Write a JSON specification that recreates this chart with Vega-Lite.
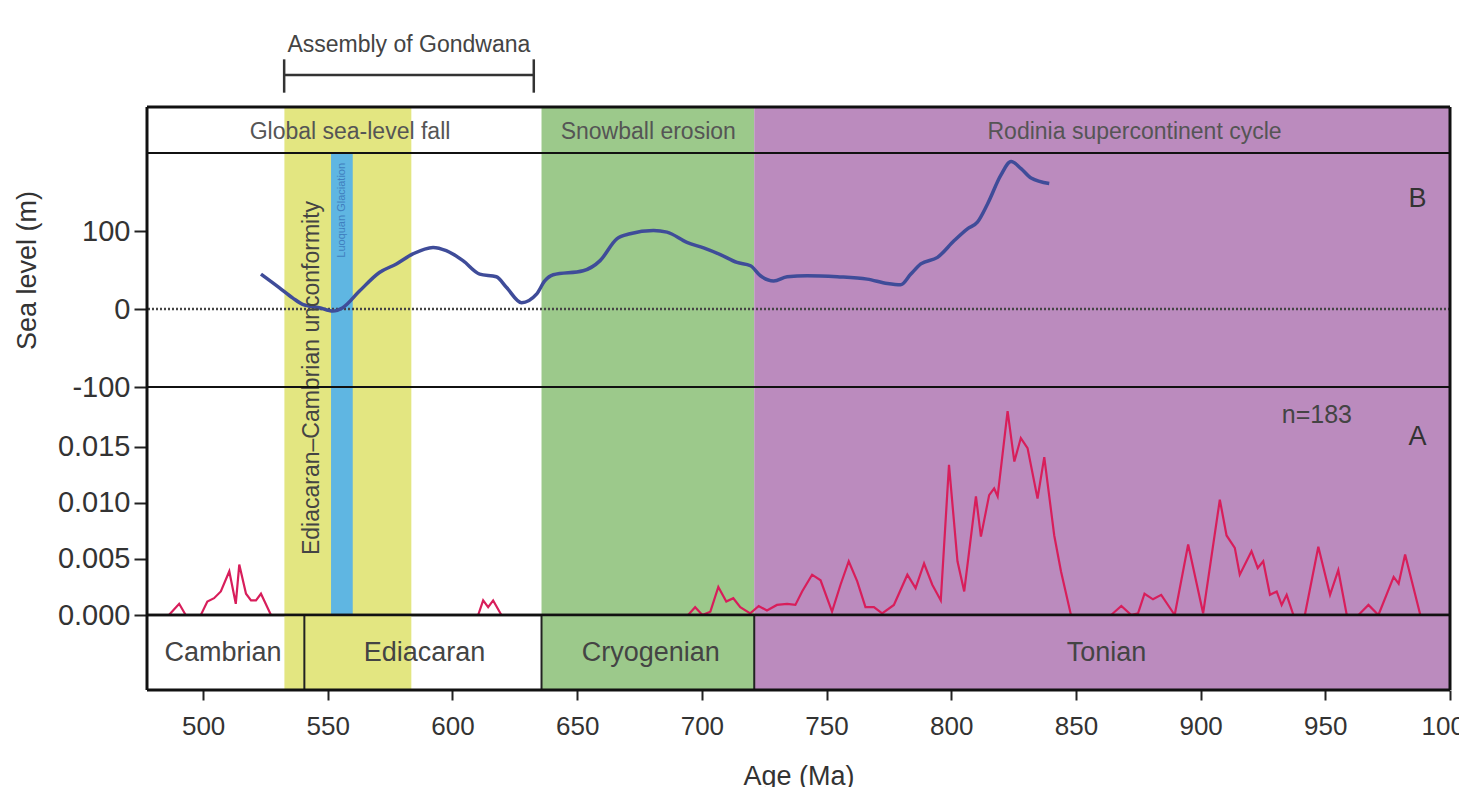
{
  "$schema": "https://vega.github.io/schema/vega-lite/v6.json",
  "background": "white",
  "padding": {"left": 13, "top": 30, "right": 0, "bottom": 0},
  "spacing": 0,
  "bounds": "flush",
  "config": {
    "font": "Liberation Sans",
    "view": {"stroke": null},
    "axis": {"domain": false, "grid": false, "tickColor": "#222", "tickWidth": 2, "labelFont": "Liberation Sans", "labelFontSize": 26, "labelColor": "#333", "titleFont": "Liberation Sans", "titleFontSize": 27, "titleFontWeight": "normal", "titleColor": "#333"},
    "text": {"font": "Liberation Sans"}
  },
  "datasets": {
    "one": [{"frame": "plot"}],
    "bands": [
      {"event": "Ediacaran–Cambrian unconformity", "start": 532.6, "end": 583.5},
      {"event": "Luoquan Glaciation", "start": 551.3, "end": 560},
      {"event": "Snowball erosion", "start": 635.7, "end": 721},
      {"event": "Rodinia supercontinent cycle", "start": 721, "end": 1000}
    ],
    "sea": [
      {"age": 523.2, "sea": 44.8}, {"age": 530.5, "sea": 27.5}, {"age": 536, "sea": 14}, {"age": 539.9, "sea": 6},
      {"age": 546.6, "sea": 1.7}, {"age": 552, "sea": -2.6}, {"age": 556, "sea": 1.7}, {"age": 562.7, "sea": 23},
      {"age": 570.7, "sea": 46.8}, {"age": 577.5, "sea": 57.7}, {"age": 584.1, "sea": 70.6}, {"age": 592.2, "sea": 79},
      {"age": 597.5, "sea": 74.8}, {"age": 604.2, "sea": 62}, {"age": 610.9, "sea": 44.8}, {"age": 617.6, "sea": 41.3},
      {"age": 621.7, "sea": 27.5}, {"age": 627.7, "sea": 8.1}, {"age": 633.7, "sea": 19}, {"age": 637, "sea": 36},
      {"age": 640.4, "sea": 43.9}, {"age": 652.4, "sea": 49}, {"age": 659.2, "sea": 62}, {"age": 665.9, "sea": 90},
      {"age": 671.2, "sea": 96.4}, {"age": 680.6, "sea": 100.6}, {"age": 686, "sea": 98.5}, {"age": 694, "sea": 85.5},
      {"age": 700.7, "sea": 78.3}, {"age": 707.4, "sea": 69.7}, {"age": 714.1, "sea": 59.7}, {"age": 719.5, "sea": 55.5},
      {"age": 723.5, "sea": 42.6}, {"age": 728.8, "sea": 36}, {"age": 734.2, "sea": 41.3}, {"age": 742.2, "sea": 42.6},
      {"age": 754.3, "sea": 41.3}, {"age": 766.3, "sea": 38.3}, {"age": 774.4, "sea": 32.6}, {"age": 779.7, "sea": 31},
      {"age": 783.8, "sea": 44.8}, {"age": 787.8, "sea": 57.7}, {"age": 794.5, "sea": 66.2}, {"age": 801.2, "sea": 87.7},
      {"age": 806.5, "sea": 102.8}, {"age": 810.5, "sea": 111.4}, {"age": 814.6, "sea": 135}, {"age": 819.9, "sea": 171.6},
      {"age": 824, "sea": 189}, {"age": 828, "sea": 180}, {"age": 832, "sea": 168}, {"age": 839.3, "sea": 161}
    ],
    "density": [
      {"age": 486.3, "d": 0}, {"age": 490.4, "d": 0.001}, {"age": 493, "d": 0}, {"age": 499.1, "d": 0},
      {"age": 501.7, "d": 0.0012}, {"age": 504.4, "d": 0.0015}, {"age": 507.1, "d": 0.0021}, {"age": 510.5, "d": 0.0039},
      {"age": 513.1, "d": 0.001}, {"age": 514.5, "d": 0.0045}, {"age": 517.2, "d": 0.0019}, {"age": 519.2, "d": 0.0013},
      {"age": 521.2, "d": 0.0013}, {"age": 523.2, "d": 0.0019}, {"age": 527.2, "d": 0},
      {"age": 610.3, "d": 0}, {"age": 612.3, "d": 0.0013}, {"age": 614.3, "d": 0.0007}, {"age": 616.3, "d": 0.0013}, {"age": 619.6, "d": 0},
      {"age": 694.5, "d": 0}, {"age": 697.3, "d": 0.0007}, {"age": 700.2, "d": 0}, {"age": 703.4, "d": 0.0003},
      {"age": 706.6, "d": 0.0025}, {"age": 709.8, "d": 0.0012}, {"age": 712.6, "d": 0.0015}, {"age": 715.4, "d": 0.0007},
      {"age": 719.4, "d": 0.00015}, {"age": 722.8, "d": 0.0008}, {"age": 726.1, "d": 0.0004}, {"age": 730.1, "d": 0.0009},
      {"age": 734.2, "d": 0.001}, {"age": 737.5, "d": 0.0009}, {"age": 740.2, "d": 0.0021}, {"age": 744.2, "d": 0.0036},
      {"age": 747.6, "d": 0.0031}, {"age": 752.2, "d": 0.0003}, {"age": 755.6, "d": 0.0027}, {"age": 758.9, "d": 0.0048},
      {"age": 762.3, "d": 0.003}, {"age": 765.6, "d": 0.0007}, {"age": 769, "d": 0.0007}, {"age": 772.3, "d": 0.00015},
      {"age": 777, "d": 0.0009}, {"age": 782.4, "d": 0.0036}, {"age": 785.7, "d": 0.0024}, {"age": 789.1, "d": 0.0046},
      {"age": 792.4, "d": 0.0027}, {"age": 795.8, "d": 0.0013}, {"age": 799.1, "d": 0.0134}, {"age": 802.5, "d": 0.0048},
      {"age": 805.2, "d": 0.0021}, {"age": 809.9, "d": 0.0106}, {"age": 811.9, "d": 0.007}, {"age": 815.2, "d": 0.0107},
      {"age": 817.2, "d": 0.0113}, {"age": 818.6, "d": 0.0106}, {"age": 822.6, "d": 0.0182}, {"age": 825.3, "d": 0.0137},
      {"age": 827.9, "d": 0.0158}, {"age": 830.6, "d": 0.0149}, {"age": 834.6, "d": 0.0104}, {"age": 837.3, "d": 0.0141},
      {"age": 841.3, "d": 0.0071}, {"age": 844, "d": 0.0039}, {"age": 848, "d": 0},
      {"age": 864.1, "d": 0}, {"age": 868.2, "d": 0.0008}, {"age": 872.2, "d": 0}, {"age": 874.9, "d": 0.00015},
      {"age": 877.5, "d": 0.0019}, {"age": 880.9, "d": 0.0014}, {"age": 884.2, "d": 0.0018}, {"age": 889.6, "d": 0},
      {"age": 895, "d": 0.0063}, {"age": 901, "d": 0.00015}, {"age": 907.7, "d": 0.0103}, {"age": 910.4, "d": 0.0071},
      {"age": 913.7, "d": 0.006}, {"age": 915.7, "d": 0.0036}, {"age": 920.4, "d": 0.0057}, {"age": 922.9, "d": 0.0042},
      {"age": 925.1, "d": 0.0048}, {"age": 927.8, "d": 0.0018}, {"age": 930.5, "d": 0.0021}, {"age": 932.5, "d": 0.0009},
      {"age": 934.5, "d": 0.0018}, {"age": 937.2, "d": 0}, {"age": 941.8, "d": 0}, {"age": 947.2, "d": 0.0061},
      {"age": 951.9, "d": 0.0018}, {"age": 955.2, "d": 0.004}, {"age": 958.6, "d": 0}, {"age": 963.3, "d": 0},
      {"age": 967.3, "d": 0.0009}, {"age": 971.3, "d": 0}, {"age": 977.4, "d": 0.0034}, {"age": 979.4, "d": 0.0028},
      {"age": 982, "d": 0.0054}, {"age": 988.1, "d": 0}
    ],
    "periods": [
      {"period": "Cambrian", "start": 477.5, "end": 540.6, "mid": 508},
      {"period": "Ediacaran", "start": 540.6, "end": 635.7, "mid": 588.8},
      {"period": "Cryogenian", "start": 635.7, "end": 721, "mid": 679.5},
      {"period": "Tonian", "start": 721, "end": 1000, "mid": 862.3}
    ]
  },
  "vconcat": [
    {
      "width": 1303, "height": 77,
      "data": {"values": [{"event": "Assembly of Gondwana", "start": 532.5, "end": 632.6, "mid": 582.5}]},
      "layer": [
        {"mark": {"type": "rule", "color": "#333", "strokeWidth": 2.5},
         "encoding": {"x": {"field": "start", "type": "quantitative", "scale": {"domain": [477.5, 1000], "nice": false, "zero": false}, "axis": null}, "x2": {"field": "end"},
                      "y": {"datum": 0.4156, "type": "quantitative", "scale": {"domain": [0, 1], "nice": false}, "axis": null}}},
        {"mark": {"type": "rule", "color": "#333", "strokeWidth": 2.5},
         "encoding": {"x": {"field": "start", "type": "quantitative"}, "y": {"datum": 0.186, "type": "quantitative"}, "y2": {"datum": 0.619}}},
        {"mark": {"type": "rule", "color": "#333", "strokeWidth": 2.5},
         "encoding": {"x": {"field": "end", "type": "quantitative"}, "y": {"datum": 0.186, "type": "quantitative"}, "y2": {"datum": 0.619}}},
        {"mark": {"type": "text", "fontSize": 23, "color": "#444", "align": "center", "baseline": "middle"},
         "encoding": {"x": {"field": "mid", "type": "quantitative"}, "y": {"datum": 0.805, "type": "quantitative"}, "text": {"field": "event"}}}
      ]
    },
    {
      "width": 1303, "height": 46,
      "layer": [
        {"data": {"name": "bands"}, "transform": [{"filter": "datum.event !== 'Luoquan Glaciation'"}],
         "mark": {"type": "rect"},
         "encoding": {"x": {"field": "start", "type": "quantitative", "scale": {"domain": [477.5, 1000], "nice": false, "zero": false}, "axis": null}, "x2": {"field": "end"},
                      "color": {"field": "event", "type": "nominal", "legend": null, "scale": {"domain": ["Ediacaran–Cambrian unconformity", "Luoquan Glaciation", "Snowball erosion", "Rodinia supercontinent cycle"], "range": ["#e3e681", "#5fb6e2", "#9cc98b", "#bb8bbe"]}}}},
        {"data": {"values": [{"label": "Global sea-level fall", "mid": 558.9}, {"label": "Snowball erosion", "mid": 678.5}, {"label": "Rodinia supercontinent cycle", "mid": 873.5}]},
         "mark": {"type": "text", "fontSize": 23, "color": "#555", "align": "center", "baseline": "middle"},
         "encoding": {"x": {"field": "mid", "type": "quantitative"}, "y": {"datum": 0.45, "type": "quantitative", "scale": {"domain": [0, 1], "nice": false}, "axis": null}, "text": {"field": "label"}}},
        {"data": {"name": "one"}, "mark": {"type": "rule", "color": "#111", "strokeWidth": 3}, "encoding": {"y": {"datum": 1, "type": "quantitative"}}},
        {"data": {"name": "one"}, "mark": {"type": "rule", "color": "#111", "strokeWidth": 2}, "encoding": {"y": {"datum": 0, "type": "quantitative"}}},
        {"data": {"name": "one"}, "mark": {"type": "rule", "color": "#111", "strokeWidth": 3}, "encoding": {"x": {"datum": 477.5, "type": "quantitative"}}},
        {"data": {"name": "one"}, "mark": {"type": "rule", "color": "#111", "strokeWidth": 3}, "encoding": {"x": {"datum": 1000, "type": "quantitative"}}}
      ]
    },
    {
      "width": 1303, "height": 234,
      "layer": [
        {"data": {"name": "bands"},
         "mark": {"type": "rect"},
         "encoding": {"x": {"field": "start", "type": "quantitative", "scale": {"domain": [477.5, 1000], "nice": false, "zero": false}, "axis": null}, "x2": {"field": "end"},
                      "color": {"field": "event", "type": "nominal", "legend": null, "scale": {"domain": ["Ediacaran–Cambrian unconformity", "Luoquan Glaciation", "Snowball erosion", "Rodinia supercontinent cycle"], "range": ["#e3e681", "#5fb6e2", "#9cc98b", "#bb8bbe"]}}}},
        {"data": {"values": [{"label": "Luoquan Glaciation", "age": 555.7, "sea": 126.5}]},
         "mark": {"type": "text", "fontSize": 11, "angle": 270, "color": "#3f7fbf", "align": "center", "baseline": "middle"},
         "encoding": {"x": {"field": "age", "type": "quantitative"}, "y": {"field": "sea", "type": "quantitative"}, "text": {"field": "label"}}},
        {"data": {"name": "one"},
         "mark": {"type": "rule", "color": "#444", "strokeWidth": 2.5, "strokeDash": [2, 2]},
         "encoding": {"y": {"datum": 0, "type": "quantitative", "scale": {"domain": [-100, 200], "nice": false, "zero": false},
                            "axis": {"values": [-100, 0, 100], "tickSize": 13, "labelPadding": 4, "labelFontSize": 29, "title": "Sea level (m)", "titlePadding": 30, "labelExpr": "datum.value < 0 ? '-' + abs(datum.value) : datum.label"}}}},
        {"data": {"name": "sea"},
         "mark": {"type": "line", "color": "#3f4c99", "strokeWidth": 3.5, "interpolate": "monotone"},
         "encoding": {"x": {"field": "age", "type": "quantitative"}, "y": {"field": "sea", "type": "quantitative"}}},
        {"data": {"values": [{"label": "B", "age": 987, "sea": 140.6}]},
         "mark": {"type": "text", "fontSize": 27, "color": "#333", "align": "center", "baseline": "middle"},
         "encoding": {"x": {"field": "age", "type": "quantitative"}, "y": {"field": "sea", "type": "quantitative"}, "text": {"field": "label"}}},
        {"data": {"name": "one"}, "mark": {"type": "rule", "color": "#111", "strokeWidth": 2}, "encoding": {"y": {"datum": 200, "type": "quantitative"}}},
        {"data": {"name": "one"}, "mark": {"type": "rule", "color": "#111", "strokeWidth": 2}, "encoding": {"y": {"datum": -100, "type": "quantitative"}}},
        {"data": {"name": "one"}, "mark": {"type": "rule", "color": "#111", "strokeWidth": 3}, "encoding": {"x": {"datum": 477.5, "type": "quantitative"}}},
        {"data": {"name": "one"}, "mark": {"type": "rule", "color": "#111", "strokeWidth": 3}, "encoding": {"x": {"datum": 1000, "type": "quantitative"}}}
      ]
    },
    {
      "width": 1303, "height": 228,
      "layer": [
        {"data": {"name": "bands"},
         "mark": {"type": "rect"},
         "encoding": {"x": {"field": "start", "type": "quantitative", "scale": {"domain": [477.5, 1000], "nice": false, "zero": false}, "axis": null}, "x2": {"field": "end"},
                      "color": {"field": "event", "type": "nominal", "legend": null, "scale": {"domain": ["Ediacaran–Cambrian unconformity", "Luoquan Glaciation", "Snowball erosion", "Rodinia supercontinent cycle"], "range": ["#e3e681", "#5fb6e2", "#9cc98b", "#bb8bbe"]}}}},
        {"data": {"name": "density"},
         "mark": {"type": "line", "color": "#d81e5b", "strokeWidth": 2.2},
         "encoding": {"x": {"field": "age", "type": "quantitative"},
                      "y": {"field": "d", "type": "quantitative", "scale": {"domain": [0, 0.020357], "nice": false},
                            "axis": {"values": [0, 0.005, 0.01, 0.015], "format": ".3f", "tickSize": 13, "labelPadding": 4, "labelFontSize": 29, "title": null}}}},
        {"data": {"values": [{"label": "n=183", "age": 946.6, "d": 0.01786}]},
         "mark": {"type": "text", "fontSize": 25, "color": "#444", "align": "center", "baseline": "middle"},
         "encoding": {"x": {"field": "age", "type": "quantitative"}, "y": {"field": "d", "type": "quantitative"}, "text": {"field": "label"}}},
        {"data": {"values": [{"label": "A", "age": 987, "d": 0.0159}]},
         "mark": {"type": "text", "fontSize": 27, "color": "#333", "align": "center", "baseline": "middle"},
         "encoding": {"x": {"field": "age", "type": "quantitative"}, "y": {"field": "d", "type": "quantitative"}, "text": {"field": "label"}}},
        {"data": {"values": [{"label": "Ediacaran–Cambrian unconformity", "age": 543.5, "d": 0.02116}]},
         "mark": {"type": "text", "fontSize": 23, "angle": 270, "color": "#444", "align": "center", "baseline": "middle", "clip": false},
         "encoding": {"x": {"field": "age", "type": "quantitative"}, "y": {"field": "d", "type": "quantitative"}, "text": {"field": "label"}}},
        {"data": {"name": "one"}, "mark": {"type": "rule", "color": "#111", "strokeWidth": 2}, "encoding": {"y": {"datum": 0.020357, "type": "quantitative"}}},
        {"data": {"name": "one"}, "mark": {"type": "rule", "color": "#111", "strokeWidth": 2.5}, "encoding": {"y": {"datum": 0, "type": "quantitative"}}},
        {"data": {"name": "one"}, "mark": {"type": "rule", "color": "#111", "strokeWidth": 3}, "encoding": {"x": {"datum": 477.5, "type": "quantitative"}}},
        {"data": {"name": "one"}, "mark": {"type": "rule", "color": "#111", "strokeWidth": 3}, "encoding": {"x": {"datum": 1000, "type": "quantitative"}}}
      ]
    },
    {
      "width": 1303, "height": 75,
      "layer": [
        {"data": {"name": "bands"}, "transform": [{"filter": "datum.event !== 'Luoquan Glaciation'"}],
         "mark": {"type": "rect"},
         "encoding": {"x": {"field": "start", "type": "quantitative", "scale": {"domain": [477.5, 1000], "nice": false, "zero": false},
                            "axis": {"values": [500, 550, 600, 650, 700, 750, 800, 850, 900, 950, 1000], "format": "d", "tickSize": 10, "labelPadding": 13, "labelFlush": false, "title": "Age (Ma)", "titlePadding": 24}},
                      "x2": {"field": "end"},
                      "color": {"field": "event", "type": "nominal", "legend": null, "scale": {"domain": ["Ediacaran–Cambrian unconformity", "Luoquan Glaciation", "Snowball erosion", "Rodinia supercontinent cycle"], "range": ["#e3e681", "#5fb6e2", "#9cc98b", "#bb8bbe"]}}}},
        {"data": {"name": "periods"},
         "mark": {"type": "rule", "color": "#222", "strokeWidth": 2},
         "encoding": {"x": {"field": "start", "type": "quantitative"}}},
        {"data": {"name": "periods"},
         "mark": {"type": "text", "fontSize": 27, "color": "#444", "align": "center", "baseline": "middle"},
         "encoding": {"x": {"field": "mid", "type": "quantitative"}, "y": {"datum": 0.5, "type": "quantitative", "scale": {"domain": [0, 1], "nice": false}, "axis": null}, "text": {"field": "period"}}},
        {"data": {"name": "one"}, "mark": {"type": "rule", "color": "#111", "strokeWidth": 2.5}, "encoding": {"y": {"datum": 1, "type": "quantitative"}}},
        {"data": {"name": "one"}, "mark": {"type": "rule", "color": "#111", "strokeWidth": 3}, "encoding": {"y": {"datum": 0, "type": "quantitative"}}},
        {"data": {"name": "one"}, "mark": {"type": "rule", "color": "#111", "strokeWidth": 3}, "encoding": {"x": {"datum": 477.5, "type": "quantitative"}}},
        {"data": {"name": "one"}, "mark": {"type": "rule", "color": "#111", "strokeWidth": 3}, "encoding": {"x": {"datum": 1000, "type": "quantitative"}}}
      ]
    }
  ]
}
